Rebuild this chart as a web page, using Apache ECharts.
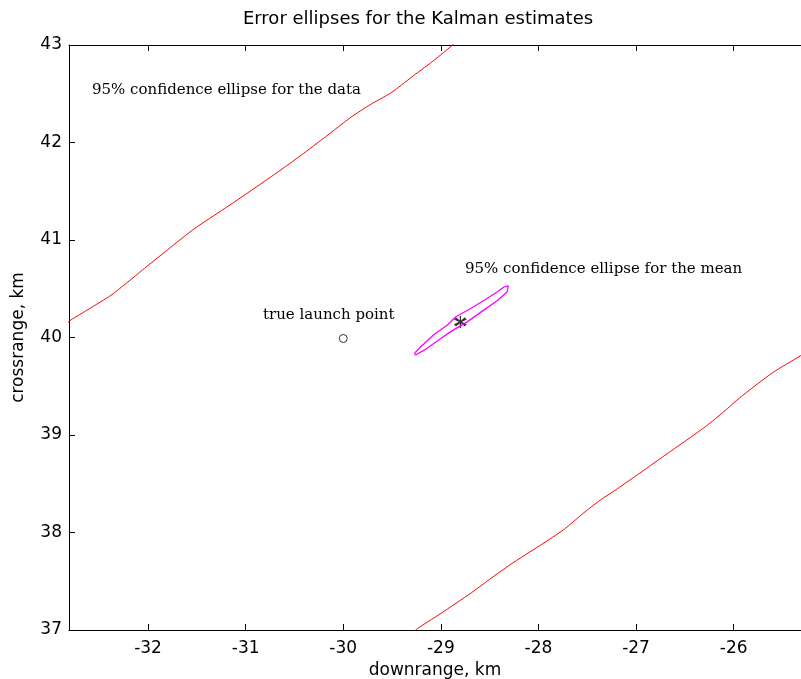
<!DOCTYPE html>
<html>
<head>
<meta charset="utf-8">
<script src="https://cdn.jsdelivr.net/npm/echarts@6/dist/echarts.min.js"></script>
<style>html,body{margin:0;padding:0;background:#fff}#c{width:801px;height:679px}</style>
</head>
<body>
<div id="c"></div>
<script>
// Data (downrange km, crossrange km)
var dataEllipseUpper = [
  [-32.85,40.13],[-32.79,40.18],[-32.61,40.29],[-32.37,40.44],[-32.06,40.69],[-31.80,40.90],
  [-31.52,41.12],[-31.22,41.32],[-30.94,41.51],[-30.68,41.69],[-30.43,41.87],[-30.18,42.06],
  [-29.92,42.26],[-29.72,42.39],[-29.51,42.51],[-29.30,42.67],[-29.10,42.82],
  [-29.00,42.90],[-28.88,43.00],[-28.84,43.05]
];
var dataEllipseLower = [
  [-29.30,36.95],[-29.26,37.00],[-29.00,37.17],[-28.69,37.38],[-28.50,37.52],[-28.29,37.67],
  [-27.98,37.87],[-27.74,38.03],[-27.55,38.19],[-27.37,38.33],[-27.19,38.45],[-26.96,38.61],
  [-26.65,38.83],[-26.45,38.97],[-26.27,39.10],[-26.10,39.24],[-25.94,39.38],[-25.60,39.64],
  [-25.32,39.81],[-25.25,39.86]
];
var meanEllipse = [
  [-29.27,39.84],[-29.20,39.91],[-29.07,40.03],[-28.93,40.13],[-28.85,40.21],[-28.69,40.30],
  [-28.56,40.38],[-28.42,40.47],[-28.35,40.52],[-28.31,40.53],
  [-28.32,40.47],[-28.42,40.38],[-28.59,40.26],[-28.73,40.16],[-28.90,40.06],
  [-29.03,39.97],[-29.17,39.87],[-29.26,39.82],[-29.27,39.84]
];
var estimatePoint = [[-28.80,40.16]];
var truePoint = [[-30.00,39.99]];
var xRange = [-32.81,-25.31];
var yRange = [37,43];
var titleText = 'Error ellipses for the Kalman estimates';
var xLabel = 'downrange, km';
var yLabel = 'crossrange, km';
var notes = ['95% confidence ellipse for the data','true launch point','95% confidence ellipse for the mean'];

var chart = echarts.init(document.getElementById('c'), null, {renderer:'canvas'});
var sans = 'DejaVu Sans, Verdana, sans-serif';
var serif = 'DejaVu Serif, Liberation Serif, serif';
var axisFont = {fontFamily:sans, fontSize:17, color:'#000'};
chart.setOption({
  animation:false,
  backgroundColor:'#fff',
  title:{text:titleText,left:413,top:5,textAlign:'center',
    textStyle:{fontFamily:sans,fontSize:18,fontWeight:'normal',color:'#000'}},
  grid:{left:69,right:0,top:45,bottom:49,containLabel:false,outerBoundsMode:'none'},
  xAxis:[{
    type:'value',min:xRange[0],max:xRange[1],splitNumber:7,position:'bottom',
    axisLine:{show:true,onZero:false,lineStyle:{color:'#000',width:1}},
    axisTick:{show:true,inside:true,length:6,lineStyle:{color:'#000'}},
    axisLabel:Object.assign({showMinLabel:false,showMaxLabel:false,margin:10},axisFont),
    splitLine:{show:false},
    name:xLabel,nameLocation:'middle',nameGap:27,nameTextStyle:axisFont
  },{
    type:'value',min:xRange[0],max:xRange[1],splitNumber:7,position:'top',
    axisLine:{show:true,onZero:false,lineStyle:{color:'#000',width:1}},
    axisTick:{show:true,inside:true,length:6,lineStyle:{color:'#000'}},
    axisLabel:{show:false},splitLine:{show:false}
  }],
  yAxis:[{
    type:'value',min:yRange[0],max:yRange[1],interval:1,
    axisLine:{show:true,onZero:false,lineStyle:{color:'#000',width:1}},
    axisTick:{show:true,inside:true,length:6,lineStyle:{color:'#000'}},
    axisLabel:Object.assign({margin:7},axisFont),
    splitLine:{show:false},
    name:yLabel,nameLocation:'middle',nameGap:42,nameTextStyle:axisFont
  }],
  series:[
    {type:'line',data:dataEllipseUpper,showSymbol:false,clip:true,smooth:0.2,
      itemStyle:{color:'#ff0000'},lineStyle:{color:'#ff0000',width:1}},
    {type:'line',data:dataEllipseLower,showSymbol:false,clip:true,smooth:0.2,
      itemStyle:{color:'#ff0000'},lineStyle:{color:'#ff0000',width:1}},
    {type:'line',data:meanEllipse,showSymbol:false,clip:true,
      itemStyle:{color:'#ff00ff'},lineStyle:{color:'#ff00ff',width:1.3}},
    {type:'scatter',data:estimatePoint,symbol:'path://M0,-10L0,10M-8.66,-5L8.66,5M-8.66,5L8.66,-5M-7,-7L7,7M-7,7L7,-7',
      symbolSize:12,itemStyle:{color:'none',borderColor:'#000',borderWidth:1.3}},
    {type:'scatter',data:truePoint,symbol:'circle',symbolSize:8,
      itemStyle:{color:'#fff',borderColor:'#000',borderWidth:1}}
  ],
  graphic:[
    {type:'text',x:92,y:90,style:{text:notes[0],font:'15px '+serif,fill:'#000',textVerticalAlign:'middle'}},
    {type:'text',x:263,y:315,style:{text:notes[1],font:'15px '+serif,fill:'#000',textVerticalAlign:'middle'}},
    {type:'text',x:465,y:269,style:{text:notes[2],font:'15px '+serif,fill:'#000',textVerticalAlign:'middle'}}
  ]
});
</script>
</body>
</html>
